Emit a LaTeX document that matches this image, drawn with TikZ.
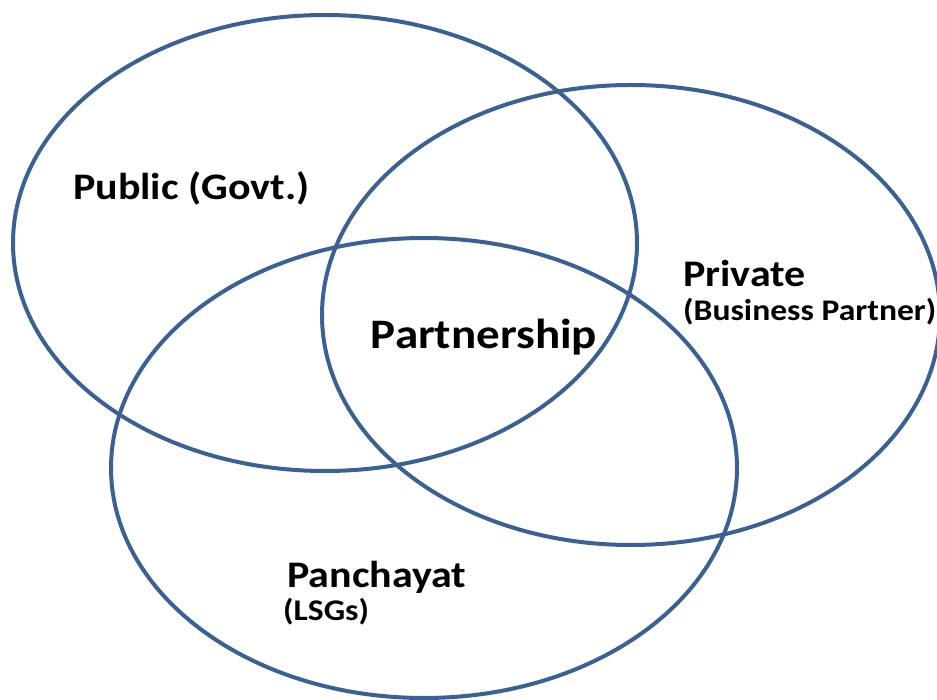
\documentclass[tikz,border=0pt]{standalone}
\usepackage{fontspec}
\setmainfont{Carlito}[FakeStretch=1.12]
\usetikzlibrary{positioning}
\definecolor{ringblue}{RGB}{60,97,145}
\tikzstyle{ring} = [draw=ringblue, line width=4pt]
\tikzstyle{mainlabel} = [font=\bfseries\fontsize{37.5}{42}\selectfont, inner sep=0pt, anchor=west]
\tikzstyle{sublabel} = [font=\bfseries\fontsize{30}{34}\selectfont, inner sep=0pt, anchor=west]
\tikzstyle{centerlabel} = [font=\bfseries\fontsize{42}{48}\selectfont, inner sep=0pt]

\begin{document}
\begin{tikzpicture}[x=1pt, y=-1pt]
    \useasboundingbox (0,0) rectangle (937,700);
    % the three sets
    \draw [ring] (325,243) ellipse [x radius=312, y radius=228];
    \draw [ring] (631,315) ellipse [x radius=309, y radius=230];
    \draw [ring] (424,468) ellipse [x radius=313, y radius=230];
    % Place labels
    \node [mainlabel] (public) at (73,188) {Public (Govt.)};
    \node [mainlabel] (private) at (683,273) {Private};
    \node [sublabel] (business) at (683,312) {(Business Partner)};
    \node [centerlabel] (partnership) at (484,337) {Partnership};
    \node [mainlabel] (panchayat) at (287,577) {Panchayat};
    \node [sublabel] (lsgs) at (283,612) {(LSGs)};
\end{tikzpicture}
\end{document}
